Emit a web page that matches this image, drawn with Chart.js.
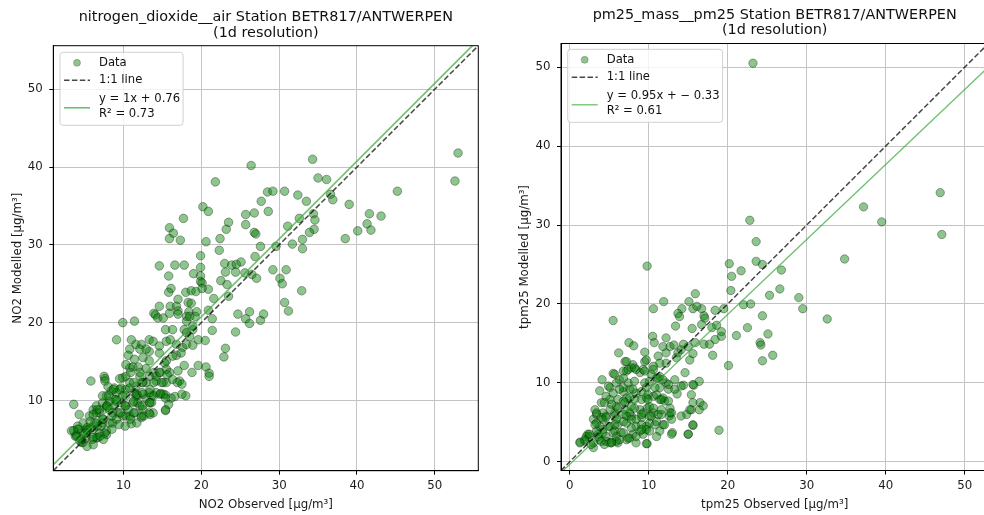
<!DOCTYPE html>
<html>
<head>
<meta charset="utf-8">
<title>Station BETR817/ANTWERPEN</title>
<script src="https://cdn.jsdelivr.net/npm/chart.js@4.4.1/dist/chart.umd.min.js"></script>
<style>
  html, body { margin: 0; padding: 0; width: 984px; height: 515px; overflow: hidden; background: #fff; }
  .panel { position: absolute; top: 0; height: 515px; }
  #no2Wrap { left: 0; width: 490px; }
  #pm25Wrap { left: 490px; width: 504px; }
</style>
</head>
<body>
<div class="panel" id="no2Wrap"><canvas id="no2Chart"></canvas></div>
<div class="panel" id="pm25Wrap"><canvas id="pm25Chart"></canvas></div>
<script>
var chartFont = 'DejaVu Sans';

// daily NO2, [observed, modelled] in µg/m3
var no2Pairs = [
  [53.0,41.8],[52.6,38.2],[45.2,36.9],[34.3,41.0],[26.4,40.2],[21.8,38.1],[35.0,38.6],[36.1,38.4],[28.5,36.8],[29.2,36.9],
  [30.7,36.9],[32.4,36.4],[27.7,35.6],[33.5,35.6],[36.6,36.5],[36.9,35.8],[39.0,35.2],[28.6,34.3],[20.2,34.9],[20.9,34.3],
  [17.7,33.4],[25.7,33.9],[26.8,34.1],[34.4,34.0],[32.6,33.4],[34.6,33.2],[23.5,32.9],[25.7,32.6],[41.6,34.0],[43.1,33.7],
  [41.3,32.7],[40.1,31.8],[41.8,31.9],[38.5,30.8],[31.1,32.4],[34.5,32.0],[33.9,31.6],[15.9,32.2],[16.4,31.5],[15.9,30.8],
  [17.3,30.6],[23.2,32.0],[22.4,30.8],[26.8,31.6],[27.0,31.4],[20.6,30.4],[27.6,29.8],[29.6,29.8],[31.7,30.1],[33.0,30.7],
  [33.0,29.5],[22.3,29.3],[19.9,28.6],[26.9,28.5],[14.6,27.3],[16.6,27.4],[17.8,27.4],[19.9,27.1],[23.0,27.6],[23.9,27.4],
  [24.5,27.5],[25.1,27.8],[29.2,26.8],[30.9,26.8],
  [15.8,26.0],[19.0,26.3],[19.9,26.0],[19.9,25.3],[20.1,25.1],[22.5,25.4],[23.1,26.5],[24.4,26.5],[25.6,26.4],[26.5,26.2],
  [27.1,25.7],[30.1,25.7],[30.4,25.0],[23.3,24.9],[20.9,24.3],[16.1,24.4],[15.8,23.9],[18.0,23.9],[18.7,24.1],[19.3,24.0],
  [20.1,24.4],[21.6,23.1],[23.5,23.4],[32.9,24.1],[17.0,23.0],[18.3,22.6],[18.7,22.5],[30.7,22.6],[31.2,21.5],[14.6,22.1],
  [16.0,22.1],[16.8,22.1],[17.0,21.5],[20.9,21.6],[19.4,21.4],[18.4,21.4],[13.9,21.2],[14.1,21.0],[14.4,20.6],[15.1,20.6],
  [15.9,21.2],[17.0,21.1],[18.1,20.8],[18.1,20.2],[19.2,20.8],[21.4,20.5],[24.7,21.1],[26.2,21.4],[25.7,20.5],[26.2,19.9],
  [27.6,20.3],[28.0,21.1],[24.4,18.8],[21.4,19.0],[9.9,20.0],[11.4,20.2],[15.4,19.1],[16.3,19.1],[17.8,19.1],[18.9,19.1],
  [18.5,18.2],[9.1,17.8],[11.0,17.8],[11.6,17.2],[12.3,17.2],[13.3,17.8],[13.8,17.6],[14.6,17.0],[15.5,17.6],[16.0,17.8],
  [16.8,17.2],[17.6,16.8],[18.1,17.2],[18.9,17.1],[19.6,17.8],[20.5,17.7],[23.1,16.7],[22.9,15.6],[10.8,16.6],[10.6,15.8],
  [12.1,16.6],[13.3,16.3],[12.5,15.5],[13.3,15.1],[14.6,16.1],[15.5,15.1],[16.8,15.8],[17.8,14.5],[17.0,13.8],[15.9,13.6],
  [19.6,14.5],[20.6,14.3],[21.0,13.5],[21.0,13.1],[18.8,13.6],[10.8,14.2],[11.2,14.3],[9.9,12.9],[10.3,13.1],[11.9,14.3],
  [12.9,14.1],[13.9,13.6],[14.6,13.6],[13.3,13.1],[14.2,13.1],[15.1,12.3],[17.2,12.5],[17.5,12.1],[5.8,12.5],[7.5,13.1],
  [7.6,12.8],[9.5,12.8],[8.8,11.6],[8.4,11.2],[9.1,11.0],[9.7,11.6],[9.9,10.6],[10.3,11.4],[10.8,11.6],[11.4,11.0],
  [11.8,10.6],[12.9,10.3],[13.6,10.6],[14.2,11.0],[14.8,10.9],[15.4,10.7],[16.6,10.5],[18.0,10.6],[15.4,8.7],[3.6,9.5],
  [4.3,8.2],[6.1,8.8],[6.5,9.3],[6.9,8.4],[7.3,9.7],[7.8,9.3],[8.2,8.8],[8.8,9.3],[9.3,8.4],[9.7,9.7],
  [10.3,9.3],[10.8,8.0],[11.4,8.4],[12.1,9.3],[12.5,8.8],[13.3,9.7],[13.8,8.4],[11.0,7.0],[9.9,8.0],[7.3,7.1],
  [7.8,6.1],[6.9,5.8],[6.1,6.3],[5.4,6.1],[4.8,5.8],[3.9,5.6],[3.3,6.1],[5.2,5.2],[6.5,5.2],[6.0,5.0],
  [4.6,4.6],[8.2,7.1],[9.1,7.6],[11.8,9.7],[12.3,8.0],
  [4.1,6.3],[3.8,5.4],[4.8,4.6],[5.3,6.2],[5.8,6.5],[6.3,7.1],[6.5,8.4],[6.9,8.8],[7.8,9.1],[7.3,7.6],
  [7.1,6.7],[7.8,5.6],[6.7,5.2],[8.6,7.1],[10.3,8.0],[12.3,7.8],[13.3,8.4],[13.6,9.7],[15.1,10.8],[16.1,10.3],
  [12.5,10.8],[11.2,9.7],[9.5,11.4],[7.8,10.6],[9.1,10.1],[10.3,10.6],[11.6,11.8],[12.9,12.3],[14.2,12.5],[15.5,12.3],
  [16.3,12.7],
  [8.6,8.4],[6.5,7.1],[5.2,6.3],[9.1,9.9],[11.6,10.6],[10.8,12.3],[13.3,11.0],[12.5,12.3],[12.1,13.1],[15.3,14.8],
  [15.5,14.0],[18.1,18.7],[18.9,19.6],[18.5,20.8],[17.4,16.1],[16.3,15.7],[10.3,14.6],[11.4,15.3],[12.9,16.6],[8.0,11.8],
  [7.3,10.6],[8.2,9.9],[5.6,8.0],[4.8,7.1],[4.1,6.7],
  [7.6,12.5],[8.7,11.4],[8.1,10.6],[8.9,10.1],[7.9,9.3],[6.6,8.8],[6.1,8.2],[5.7,7.3],[5.3,6.5],[5.1,5.8],
  [4.2,6.3],[3.6,6.1],[4.0,5.4],[4.6,5.0],[6.1,5.2],[7.0,5.4],[7.6,5.8],[6.6,6.7],[7.4,7.6],[8.5,8.0],
  [9.6,8.4],[10.2,9.3],[10.6,8.8],[11.3,9.9],[11.7,10.8],[12.4,11.0],[13.4,11.4],[13.9,10.6],[14.7,10.8],[15.4,10.3],
  [15.8,9.5],[13.4,9.7],[12.4,9.3],[11.3,8.4],[10.9,7.6],[10.2,6.7],[9.4,6.9],[8.5,6.3],[7.4,5.0],[6.1,4.3],
  [5.3,4.1],[4.4,4.8],[12.6,8.0],[11.7,7.1],[12.4,12.3],[11.3,12.3],[13.9,12.3],[14.9,12.3],[10.9,13.6],[12.1,13.6],
  [14.7,13.6],[15.6,13.3],[16.9,12.3],[17.5,10.8],[15.4,8.8],[13.4,8.2]
];

// daily PM2.5, [observed, modelled] in µg/m3
var pm25Pairs = [
  [23.2,50.5],[46.9,34.1],[37.2,32.3],[39.5,30.4],[47.1,28.8],[22.8,30.6],[23.6,27.9],[34.8,25.7],[9.8,24.8],[20.2,25.1],
  [23.6,25.4],[24.4,25.0],[21.7,24.2],[20.5,23.5],[26.8,24.3],[20.4,21.7],[26.6,21.9],[25.3,21.1],[29.0,20.8],[29.5,19.4],
  [32.6,18.1],[15.9,21.3],[15.1,20.3],[11.9,20.3],[10.6,19.4],[5.5,17.9],[14.2,19.4],[15.6,19.4],[16.7,19.4],[16.1,19.7],
  [13.7,18.8],[13.9,18.4],[17.0,18.5],[17.1,18.2],[18.4,19.2],[19.5,19.4],[22.0,19.9],[22.9,20.0],[24.4,18.5],[22.5,17.0],
  [25.1,16.2],[21.1,16.0],[19.2,15.9],[19.2,16.5],[18.6,17.3],[18.0,17.0],[16.7,17.4],[15.5,16.9],[13.4,17.2],[10.5,15.9],
  [12.2,15.7],
  [18.4,15.5],[24.1,15.1],[24.2,14.8],[25.7,13.5],[24.4,12.8],[20.1,12.2],[18.1,13.5],[17.0,14.9],[17.7,14.9],[15.9,15.1],
  [15.0,14.6],[14.1,14.2],[15.2,12.9],[15.6,13.7],[14.4,14.9],[10.7,15.1],[11.8,14.6],[11.2,13.4],[12.2,13.8],[12.7,14.6],
  [13.2,14.8],[13.7,13.8],[12.2,12.5],[13.5,13.2],[11.4,12.5],[7.5,15.1],[8.1,14.7],[6.2,13.8],[7.0,12.7],[8.0,12.3],
  [9.5,13.9],[9.5,12.7],[8.9,11.3],[10.6,12.1],[11.4,10.8],[10.1,10.2],[11.0,10.6],[12.2,10.0],[13.3,10.4],[12.5,9.2],
  [13.6,8.6],[14.4,9.7],[15.7,9.7],[16.4,10.2],[5.5,11.2],[4.1,10.4],[3.8,9.0],[5.1,9.4],[6.3,10.4],[7.2,11.5],
  [7.8,11.9],[8.4,11.7],[9.3,11.7],[6.8,8.9],[7.6,9.2],[8.4,8.7],[9.1,7.9],[9.7,8.1],[10.6,8.3],[11.4,7.9],
  [12.0,7.7],[12.7,6.8],[12.6,5.8],[11.6,6.0],[10.6,6.2],[9.8,6.8],[8.9,6.6],[7.8,7.0],[7.0,7.5],[6.1,7.9],
  [5.1,7.9],[4.0,7.5],[3.2,6.6],[3.0,5.4],[3.4,6.0],[2.3,3.5],[1.3,2.5],[2.1,3.2],[3.0,1.8],[3.8,2.8],
  [4.2,4.1],[5.1,4.5],[6.1,4.7],[7.2,4.9],[8.4,4.5],[9.7,4.5],[10.1,4.9],[11.0,5.1],[11.8,4.7],[9.8,2.3],
  [8.4,2.4],[7.2,2.8],[6.1,2.4],[5.3,2.5],[4.4,2.2],[3.6,3.2],[4.6,3.2],[5.7,3.9],[6.5,3.7],[8.0,3.5],
  [9.3,3.5],[11.4,3.9],[13.0,3.7],[15.0,3.5],[15.6,4.6],[14.8,6.0],[15.4,6.6],[16.4,6.6],[16.5,7.5],[16.9,7.1],
  [18.9,4.0],[4.6,5.8],[5.7,6.2],[6.8,6.0],[7.8,5.8],[9.1,5.6],[10.1,5.8],[11.2,6.0],[5.9,7.0],[7.0,6.6],
  [3.8,4.5],
  [4.6,2.6],[15.6,7.5],[12.9,6.2],[11.8,8.1],[11.0,8.5],[10.1,7.0],[9.7,4.1],[9.1,4.7],[8.4,5.4],[7.6,6.2],
  [4.9,9.6],[5.9,10.0],[6.8,9.4],[2.5,3.2],[1.9,2.6],[3.0,2.4],[4.2,3.7],[3.4,4.9],[4.2,5.4],[5.9,3.2],
  [6.8,3.7],[7.6,3.0],[5.9,2.6],[5.1,2.4],
  [4.6,8.3],[5.5,8.7],[6.3,9.2],[7.2,8.1],[8.2,7.9],[5.1,6.6],[4.2,6.2],[5.9,5.4],[7.2,5.8],[9.3,6.2],
  [5.5,3.7],[3.4,3.9],[7.8,4.3],[8.9,3.9],[7.4,10.0],[8.2,10.2],[9.5,10.0],[10.3,11.1],[6.8,11.5],[9.7,9.4],
  [11.4,9.4],
  [5.7,11.1],[6.8,10.6],[7.4,11.7],[8.2,11.9],[7.2,12.7],[9.7,12.9],[9.5,11.5],[10.6,11.7],[11.2,10.6],[11.8,10.4],
  [12.5,9.8],[13.3,9.2],[14.1,9.6],[14.6,11.3],[15.6,9.8],[15.4,8.5],[10.8,9.4],[9.9,8.5],[9.1,8.9],[8.0,9.2],
  [7.6,8.1],[6.8,7.7],[6.1,6.8],[5.3,7.3],[4.4,7.5],[3.4,6.2],[4.0,5.6],[3.2,4.7],[3.6,3.5],[2.5,3.5],
  [1.9,2.8],[1.3,2.4],[2.7,2.2],[4.0,2.6],[5.3,2.4],[6.3,2.8],[7.4,3.0],[8.4,3.2],[9.7,2.3],[9.1,4.1],
  [10.1,3.9],[10.8,4.7],[12.0,4.7],[12.9,5.4],[12.7,6.2],[11.6,6.6],[10.6,6.8],[9.9,7.9],[8.2,6.8],[9.1,6.0],
  [7.8,5.4],[6.8,5.1],[5.7,4.7],[4.9,4.5],[4.6,5.6],[5.7,5.8],[10.3,5.8],[11.6,7.9],[12.5,7.7],[14.1,5.8],
  [15.2,6.6],[15.6,4.7],[15.0,3.5],[12.9,3.5],[11.0,3.2]
];

// axis limits (same for x and y) and tick values
var no2Limits = [0.97, 55.6];
var pm25Limits = [-1.1, 53.0];
var no2Ticks = [10, 20, 30, 40, 50];
var pm25Ticks = [0, 10, 20, 30, 40, 50];

// linear fit: slope, intercept, R2
var no2Fit = [1, 0.76, 0.73];
var pm25Fit = [0.95, -0.33, 0.61];

var no2Title = ['nitrogen_dioxide__air Station BETR817/ANTWERPEN', '(1d resolution)'];
var pm25Title = ['pm25_mass__pm25 Station BETR817/ANTWERPEN', '(1d resolution)'];

function fitLabel(fit) {
  var b = fit[1] < 0 ? '\u2212 ' + Math.abs(fit[1]).toFixed(2) : fit[1].toFixed(2);
  return ['y = ' + fit[0] + 'x + ' + b, 'R\u00b2 = ' + fit[2].toFixed(2)];
}

function roundedRect(ctx, x, y, w, h, r) {
  ctx.beginPath();
  ctx.moveTo(x + r, y);
  ctx.arcTo(x + w, y, x + w, y + h, r);
  ctx.arcTo(x + w, y + h, x, y + h, r);
  ctx.arcTo(x, y + h, x, y, r);
  ctx.arcTo(x, y, x + w, y, r);
  ctx.closePath();
}

/* frame, two-line title and the legend box inside the axes */
var panelDecor = {
  id: 'panelDecor',
  afterDraw: function(chart, args, opts) {
    var ctx = chart.ctx;
    var a = chart.chartArea;
    ctx.save();

    ctx.strokeStyle = '#000';
    ctx.lineWidth = 1;
    ctx.strokeRect(a.left, a.top, a.right - a.left, a.bottom - a.top);

    var cx = (a.left + a.right) / 2;
    ctx.fillStyle = '#111';
    ctx.font = '14.4px "' + chartFont + '"';
    ctx.textAlign = 'center';
    ctx.textBaseline = 'middle';
    ctx.fillText(opts.title[0], cx, a.top - 28.5);
    ctx.fillText(opts.title[1], cx, a.top - 12.8);

    // legend
    var ds = chart.data.datasets;
    var bx = a.left + 6.7;
    var by = a.top + opts.legendTop;
    ctx.font = '11.6px "' + chartFont + '"';
    var texts = ['Data', '1:1 line'].concat(opts.fitText);
    var maxW = 0;
    texts.forEach(function(t) { maxW = Math.max(maxW, ctx.measureText(t).width); });
    var bw = 39 + maxW + 3;
    var bh = 73;
    roundedRect(ctx, bx, by, bw, bh, 3);
    ctx.fillStyle = 'rgba(255,255,255,0.8)';
    ctx.fill();
    ctx.strokeStyle = '#d0d0d0';
    ctx.lineWidth = 1;
    ctx.stroke();

    // scatter marker
    ctx.beginPath();
    ctx.arc(bx + 17, by + 10.5, 3.5, 0, Math.PI * 2);
    ctx.fillStyle = ds[0].backgroundColor;
    ctx.fill();
    ctx.strokeStyle = 'rgba(0,0,0,0.3)';
    ctx.lineWidth = 0.7;
    ctx.stroke();

    // 1:1 line sample
    ctx.beginPath();
    ctx.setLineDash(ds[1].borderDash);
    ctx.strokeStyle = ds[1].borderColor;
    ctx.lineWidth = ds[1].borderWidth;
    ctx.moveTo(bx + 4, by + 28);
    ctx.lineTo(bx + 30, by + 28);
    ctx.stroke();
    ctx.setLineDash([]);

    // fit line sample
    ctx.beginPath();
    ctx.strokeStyle = ds[2].borderColor;
    ctx.lineWidth = ds[2].borderWidth;
    ctx.moveTo(bx + 4, by + 55.5);
    ctx.lineTo(bx + 30, by + 55.5);
    ctx.stroke();

    ctx.fillStyle = '#111';
    ctx.textAlign = 'left';
    ctx.textBaseline = 'middle';
    ctx.fillText('Data', bx + 39, by + 10.5);
    ctx.fillText('1:1 line', bx + 39, by + 28);
    ctx.fillText(opts.fitText[0], bx + 39, by + 46.5);
    ctx.fillText(opts.fitText[1], bx + 39, by + 61.5);

    ctx.restore();
  }
};

function axisOptions(o) {
  return {
    type: 'linear',
    position: o.position,
    min: o.limits[0],
    max: o.limits[1],
    afterBuildTicks: function(scale) {
      scale.ticks = o.ticks.map(function(v) { return { value: v }; });
    },
    afterFit: function(scale) {
      if (o.position === 'bottom') scale.height = o.size;
      else scale.width = o.size;
    },
    grid: { color: '#c4c4c4', lineWidth: 1, tickLength: 4, tickColor: '#000', tickWidth: 1 },
    border: { color: '#000', width: 1 },
    ticks: {
      font: { family: chartFont, size: 11.8 },
      color: '#1a1a1a',
      padding: o.tickPad,
      autoSkip: false,
      maxRotation: 0,
      callback: function(v) { return String(v); }
    },
    title: {
      display: true,
      text: o.title,
      font: { family: chartFont, size: 11.8 },
      color: '#1a1a1a',
      padding: o.titlePad
    }
  };
}

function makePanel(canvasId, p) {
  var lo = p.limits[0], hi = p.limits[1];
  var ctx = document.getElementById(canvasId).getContext('2d');
  return new Chart(ctx, {
    type: 'scatter',
    data: {
      datasets: [
        {
          label: 'Data',
          data: p.pairs.map(function(d) { return { x: d[0], y: d[1] }; }),
          backgroundColor: 'rgba(0,128,0,0.45)',
          borderColor: 'rgba(0,0,0,0.42)',
          borderWidth: 0.8,
          pointRadius: p.radius,
          order: 2
        },
        {
          label: '1:1 line',
          data: [{ x: lo, y: lo }, { x: hi, y: hi }],
          showLine: true,
          pointRadius: 0,
          borderColor: 'rgba(0,0,0,0.72)',
          borderWidth: 1.5,
          borderDash: [5.5, 2.4],
          clip: 0,
          order: 1
        },
        {
          label: 'fit',
          data: [{ x: lo, y: p.fit[0] * lo + p.fit[1] }, { x: hi, y: p.fit[0] * hi + p.fit[1] }],
          showLine: true,
          pointRadius: 0,
          borderColor: 'rgba(60,170,60,0.75)',
          borderWidth: p.fitWidth,
          clip: 0,
          order: 0
        }
      ]
    },
    options: {
      responsive: true,
      maintainAspectRatio: false,
      animation: false,
      events: [],
      layout: { padding: { top: p.top, right: p.right, left: 0, bottom: 0 } },
      scales: {
        x: axisOptions({ position: 'bottom', limits: p.limits, ticks: p.ticks, size: p.xSize,
          tickPad: 4, title: p.xTitle, titlePad: { top: 0, bottom: 3 } }),
        y: axisOptions({ position: 'left', limits: p.limits, ticks: p.ticks, size: p.ySize,
          tickPad: 6.5, title: p.yTitle, titlePad: { top: p.yTitlePad, bottom: 0 } })
      },
      plugins: {
        legend: { display: false },
        tooltip: { enabled: false },
        panelDecor: { title: p.title, fitText: fitLabel(p.fit), legendTop: p.legendTop }
      }
    },
    plugins: [panelDecor]
  });
}

makePanel('no2Chart', {
  pairs: no2Pairs, limits: no2Limits, ticks: no2Ticks, fit: no2Fit, title: no2Title,
  xTitle: 'NO2 Observed [\u00b5g/m\u00b3]', yTitle: 'NO2 Modelled [\u00b5g/m\u00b3]',
  top: 45.7, right: 11.7, xSize: 44.3, ySize: 53.3, yTitlePad: 11,
  radius: 4.3, fitWidth: 1.6, legendTop: 6.6
});

makePanel('pm25Chart', {
  pairs: pm25Pairs, limits: pm25Limits, ticks: pm25Ticks, fit: pm25Fit, title: pm25Title,
  xTitle: 'tpm25 Observed [\u00b5g/m\u00b3]', yTitle: 'tpm25 Modelled [\u00b5g/m\u00b3]',
  top: 43.5, right: 5.6, xSize: 44.5, ySize: 71, yTitlePad: 28,
  radius: 4.2, fitWidth: 1.3, legendTop: 5.8
});
</script>
</body>
</html>
